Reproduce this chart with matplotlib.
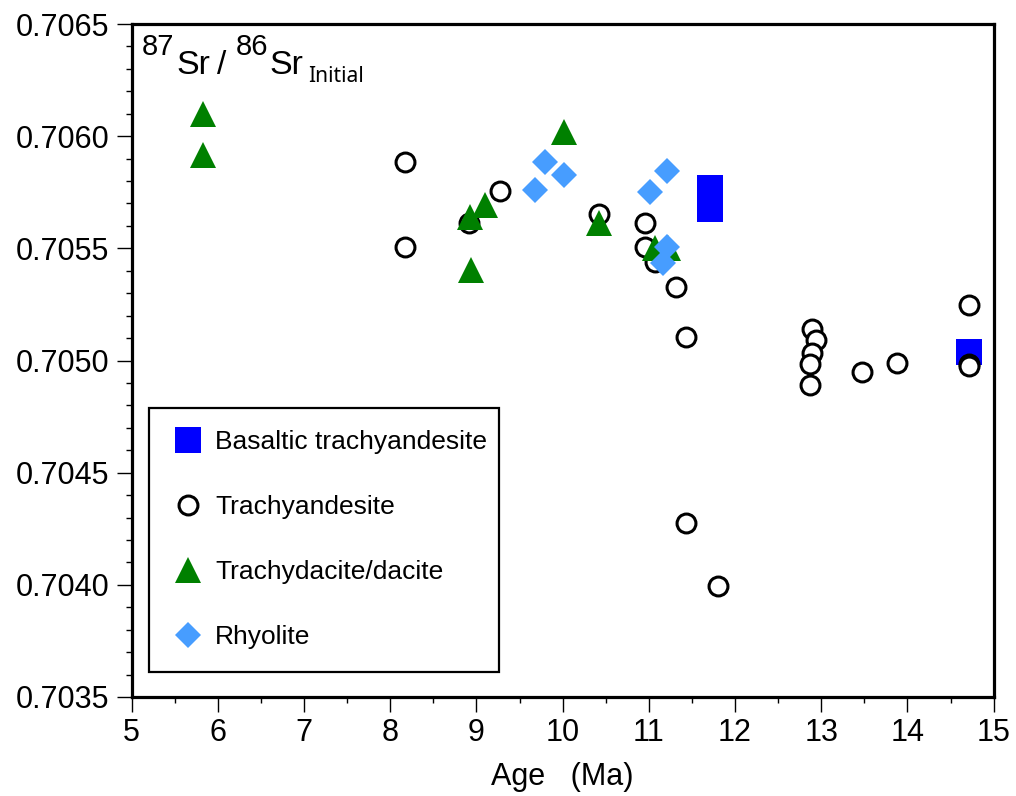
import matplotlib
matplotlib.use("Agg")
import matplotlib.pyplot as plt
from matplotlib.lines import Line2D
from matplotlib.ticker import MultipleLocator, FormatStrFormatter

plt.rcParams['font.family'] = ['Liberation Sans', 'DejaVu Sans']

# ---------- data: age (Ma) vs initial 87Sr/86Sr ----------

bta_age = [11.71, 11.71, 14.71]
bta_sr = [0.705769, 0.705675, 0.705038]

ta_age = [8.17, 8.17, 9.27, 8.91, 10.42, 10.96, 10.96, 11.07, 11.31, 11.43,
          11.43, 11.80, 12.89, 12.94, 12.89, 12.87, 12.87, 13.47, 13.88,
          14.71, 14.71, 14.71]
ta_sr = [0.705883, 0.705504, 0.705756, 0.705613, 0.705655, 0.705615, 0.705506,
         0.705439, 0.705328, 0.705105, 0.704275, 0.703995, 0.705140, 0.705091,
         0.705035, 0.704984, 0.704891, 0.704949, 0.704989, 0.705247, 0.704984,
         0.704975]

td_age = [5.83, 5.83, 8.92, 9.10, 8.94, 10.01, 10.42, 11.07, 11.22]
td_sr = [0.706099, 0.705918, 0.705640, 0.705695, 0.705403, 0.706019, 0.705613,
         0.705501, 0.705501]

rhy_age = [9.80, 10.01, 9.68, 11.21, 11.01, 11.21, 11.16]
rhy_sr = [0.705886, 0.705829, 0.705758, 0.705845, 0.705749, 0.705504, 0.705435]

BLUE = "#0000ff"
GREEN = "#008000"
LIGHTBLUE = "#479dff"

sq_kw = dict(marker="s", ms=18.7, color=BLUE, mew=0, ls="none")
ci_kw = dict(marker="o", ms=13.6, mfc="white", mec="black", mew=2.2, ls="none")
tr_kw = dict(marker="^", ms=18.5, color=GREEN, mew=0, ls="none")
di_kw = dict(marker="D", ms=13.2, color=LIGHTBLUE, mew=0, ls="none")

fig = plt.figure(figsize=(10.16, 7.96), dpi=100)
ax = fig.add_axes([0.1296, 0.1244, 0.8484, 0.8454])

ax.plot(bta_age, bta_sr, zorder=3, **sq_kw)
ax.plot(ta_age, ta_sr, zorder=4, **ci_kw)
ax.plot(td_age, td_sr, zorder=5, **tr_kw)
ax.plot(rhy_age, rhy_sr, zorder=6, **di_kw)

ax.set_xlim(5, 15)
ax.set_ylim(0.7035, 0.7065)
ax.xaxis.set_major_locator(MultipleLocator(1))
ax.xaxis.set_minor_locator(MultipleLocator(0.5))
ax.yaxis.set_major_locator(MultipleLocator(0.0005))
ax.yaxis.set_minor_locator(MultipleLocator(0.0001))
ax.yaxis.set_major_formatter(FormatStrFormatter("%.4f"))

ax.tick_params(which="major", direction="out", length=11, width=1.0,
               labelsize=22)
ax.tick_params(axis="y", which="major", pad=5)
ax.tick_params(axis="x", which="major", pad=4)
ax.tick_params(which="minor", direction="out", length=4.5, width=1.0)
for s in ax.spines.values():
    s.set_linewidth(2.3)

ax.set_xlabel("Age   (Ma)", fontsize=22, labelpad=10)

# axis title in the upper left corner, built from pieces
H = 796.0
W = 1016.0
fig.text(142 / W, 1 - 55 / H, "87", fontsize=21, va="baseline")
fig.text(176 / W, 1 - 74 / H, "Sr", fontsize=24.5, va="baseline")
fig.text(217 / W, 1 - 74 / H, "/", fontsize=24, va="baseline")
fig.text(236 / W, 1 - 55 / H, "86", fontsize=21, va="baseline")
fig.text(269 / W, 1 - 74 / H, "Sr", fontsize=24.5, va="baseline")
fig.text(308 / W, 1 - 82 / H, "Initial", fontsize=15, va="baseline",
         family=["Noto Sans", "DejaVu Sans"])

handles = [
    Line2D([], [], **sq_kw),
    Line2D([], [], **ci_kw),
    Line2D([], [], **tr_kw),
    Line2D([], [], **di_kw),
]
labels = ["Basaltic trachyandesite", "Trachyandesite", "Trachydacite/dacite",
          "Rhyolite"]
leg = ax.legend(handles, labels, loc="upper left",
                bbox_to_anchor=(0.020, 0.0505, 0.406, 0.379), mode="expand",
                borderaxespad=0, fontsize=19, frameon=True, fancybox=False,
                edgecolor="black", framealpha=1, borderpad=0.85,
                labelspacing=1.55, handlelength=1.3, handletextpad=0.35,
                numpoints=1)
leg.get_frame().set_linewidth(1.6)

fig.savefig("out.png", dpi=100)
